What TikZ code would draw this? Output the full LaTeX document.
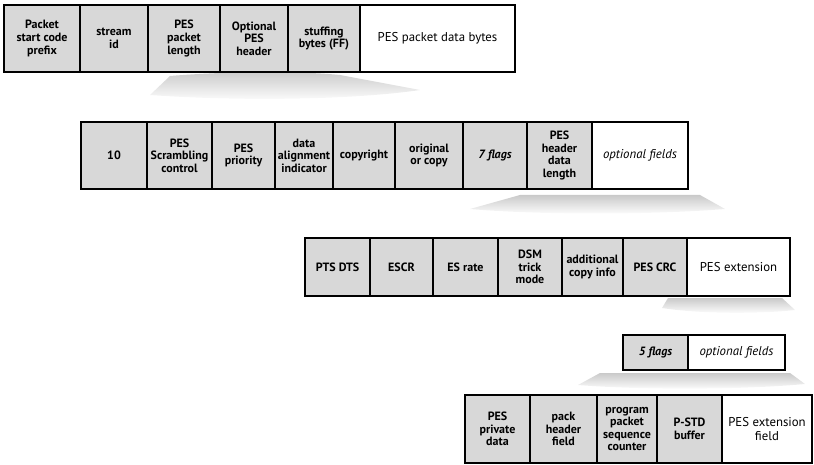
\documentclass[tikz,border=0pt]{standalone}
\usepackage{fontspec}
\setmainfont{PT Sans}
\begin{document}
\begin{tikzpicture}[x=1pt,y=-1pt,
  cell/.style={draw=black, line width=2.7pt, fill=cellgray, inner sep=0pt,
    align=center, font=\fontsize{12}{12.6}\selectfont\bfseries},
  whitecell/.style={cell, fill=white, font=\fontsize{12.8}{13.5}\selectfont},
  fan/.style={top color=gray!42, bottom color=white, draw=none}]
\definecolor{cellgray}{RGB}{216,216,216}
\useasboundingbox (0,0) rectangle (814,465);
\newcommand\pesbox[7]{%
  \node[#6, minimum width=#3pt-#2pt, minimum height=#5pt-#4pt]
    (#1) at ({(#2+#3)/2},{(#4+#5)/2}) {#7};}
% fans (shadows)
\shade[fan] (170,76) .. controls (230,71) and (300,71) .. (340,75) -- (420,90) .. controls (360,99) and (250,102) .. (150,95) -- cycle;
\shade[fan] (520,195) -- (700,195) -- (725,209) .. controls (650,215) and (540,215) .. (470,209) -- cycle;
\shade[fan] (668,298) -- (782,298) -- (795,310) .. controls (760,314) and (700,314) .. (662,308) -- cycle;
\shade[fan] (600,373) -- (790,373) -- (805,384) .. controls (740,390) and (640,390) .. (578,385) -- cycle;
% row 1
\pesbox{r1a}{4}{80}{5}{72}{cell}{Packet\\start code\\prefix}
\pesbox{r1b}{80}{148}{5}{72}{cell}{stream\\id}
\pesbox{r1c}{148}{220}{5}{72}{cell}{PES\\packet\\length}
\pesbox{r1d}{220}{288}{5}{72}{cell}{Optional\\PES\\header}
\pesbox{r1e}{288}{360}{5}{72}{cell}{stuffing\\bytes (FF)}
\pesbox{r1f}{360}{515}{5}{72}{whitecell}{PES packet data bytes}
% row 2
\pesbox{r2a}{81}{147}{122}{189}{cell}{10}
\pesbox{r2b}{147}{212}{122}{189}{cell}{PES\\Scrambling\\control}
\pesbox{r2c}{212}{275}{122}{189}{cell}{PES\\priority}
\pesbox{r2d}{275}{333}{122}{189}{cell}{data\\alignment\\indicator}
\pesbox{r2e}{333}{395}{122}{189}{cell}{copyright}
\pesbox{r2f}{395}{463}{122}{189}{cell}{original\\or copy}
\pesbox{r2g}{463}{527}{122}{189}{cell}{\itshape 7 flags}
\pesbox{r2h}{527}{592}{122}{189}{cell}{PES\\header\\data\\length}
\pesbox{r2i}{592}{688}{122}{189}{whitecell}{\itshape optional fields}
% row 3
\pesbox{r3a}{305}{370}{238}{296}{cell}{PTS DTS}
\pesbox{r3b}{370}{433}{238}{296}{cell}{ESCR}
\pesbox{r3c}{433}{498}{238}{296}{cell}{ES rate}
\pesbox{r3d}{498}{562}{238}{296}{cell}{DSM\\trick\\mode}
\pesbox{r3e}{562}{623}{238}{296}{cell}{additional\\copy info}
\pesbox{r3f}{623}{687}{238}{296}{cell}{PES CRC}
\pesbox{r3g}{687}{790}{238}{296}{whitecell}{PES extension}
% row 4
\pesbox{r4a}{623}{688}{335}{370}{cell}{\itshape 5 flags}
\pesbox{r4b}{688}{785}{335}{370}{whitecell}{\itshape optional fields}
% row 5
\pesbox{r5a}{465}{530}{395}{463}{cell}{PES\\private\\data}
\pesbox{r5b}{530}{597}{395}{463}{cell}{pack\\header\\field}
\pesbox{r5c}{597}{657}{395}{463}{cell}{program\\packet\\sequence\\counter}
\pesbox{r5d}{657}{722}{395}{463}{cell}{P-STD\\buffer}
\pesbox{r5e}{722}{812}{395}{463}{whitecell}{PES extension\\field}
\end{tikzpicture}
\end{document}
